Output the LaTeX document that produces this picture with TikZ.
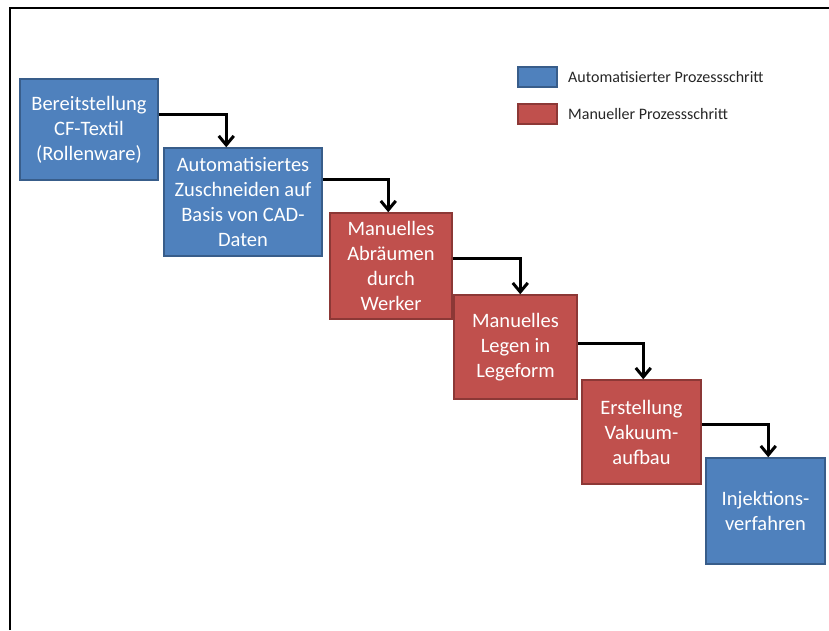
\documentclass[tikz,border=0pt]{standalone}
\usepackage{fontspec}
\setmainfont{Carlito}
\usetikzlibrary{arrows.meta}
\definecolor{autofill}{HTML}{4F81BD}
\definecolor{autodraw}{HTML}{385D8A}
\definecolor{manfill}{HTML}{C0504D}
\definecolor{mandraw}{HTML}{8C3836}
\tikzset{
  procbox/.style={draw, line width=1.5pt, text=white, align=center, inner sep=0pt,
    font=\fontsize{20.5pt}{25pt}\selectfont},
  autobox/.style={procbox, fill=autofill, draw=autodraw},
  manbox/.style={procbox, fill=manfill, draw=mandraw},
  legbox/.style={draw, line width=1.5pt, minimum width=39pt, minimum height=20pt, inner sep=0pt},
  legtext/.style={anchor=west, inner sep=0pt, text=black!85, font=\fontsize{16pt}{20pt}\selectfont},
  flow/.style={draw=black, line width=3pt, -{Straight Barb[length=9pt,width=15pt,line width=3pt]}},
  frameline/.style={draw=black, line width=2.5pt}
}
\begin{document}
\begin{tikzpicture}[x=1pt,y=-1pt]
\useasboundingbox (0,0) rectangle (829,630);
\coordinate (fb) at (9.8,630);
\coordinate (fc) at (9.8,7.8);
\coordinate (fr) at (829,7.8);
\draw[frameline] (fb) -- (fc) -- (fr);

\node[autobox, minimum width=138pt, minimum height=101pt] (b1) at (89,129.5) {Bereitstellung\\CF-Textil\\(Rollenware)};
\node[autobox, minimum width=158pt, minimum height=108pt] (b2) at (243,202) {Automatisiertes\\Zuschneiden auf\\Basis von CAD-\\Daten};
\node[manbox, minimum width=122pt, minimum height=106pt] (b3) at (391,266) {Manuelles\\Abräumen\\durch\\Werker};
\node[manbox, minimum width=123pt, minimum height=104pt] (b4) at (515.5,347) {Manuelles\\Legen in\\Legeform};
\node[manbox, minimum width=119pt, minimum height=104pt] (b5) at (641.5,432) {Erstellung\\Vakuum-\\aufbau};
\node[autobox, minimum width=119pt, minimum height=106pt] (b6) at (765.5,511) {Injektions-\\verfahren};

\draw[flow] ([yshift=15.5pt]b1.east) -| ([xshift=63pt]b2.north west);
\draw[flow] ([yshift=23pt]b2.east) -| ([xshift=59pt]b3.north west);
\draw[flow] ([yshift=8pt]b3.east) -| ([xshift=67pt]b4.north west);
\draw[flow] ([yshift=4pt]b4.east) -| ([xshift=62pt]b5.north west);
\draw[flow] ([yshift=8pt]b5.east) -| ([xshift=63pt]b6.north west);

\node[legbox, fill=autofill, draw=autodraw] (l1) at (537.5,77) {};
\node[legbox, fill=manfill, draw=mandraw] (l2) at (537.5,114) {};
\node[legtext] (t1) at (568,77) {Automatisierter Prozessschritt};
\node[legtext] (t2) at (568,114) {Manueller Prozessschritt};
\end{tikzpicture}
\end{document}
